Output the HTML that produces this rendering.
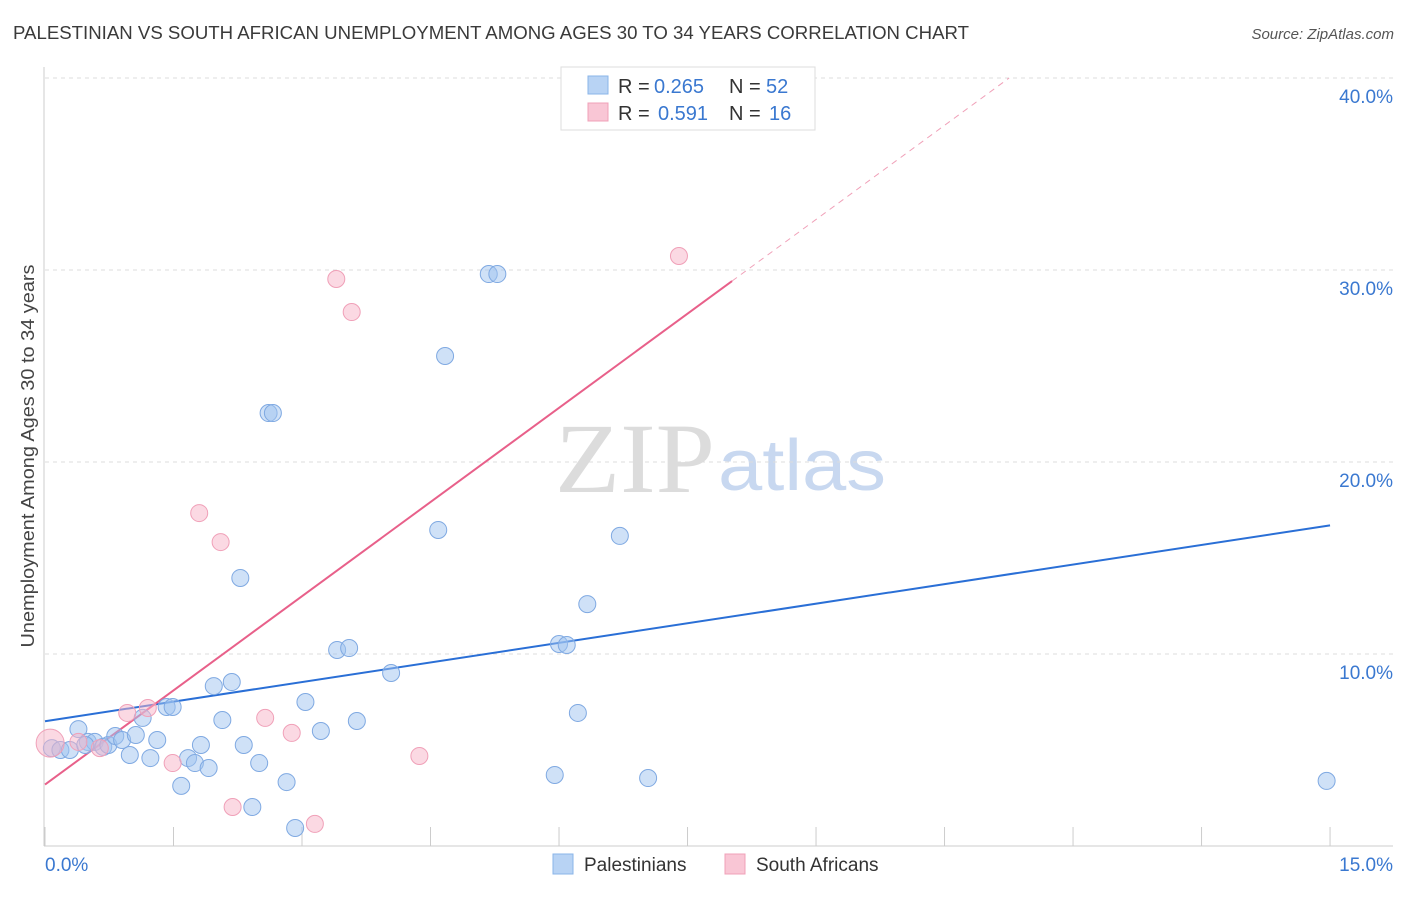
<!DOCTYPE html>
<html><head><meta charset="utf-8"><style>
body{margin:0;background:#fff;font-family:"Liberation Sans",sans-serif;}
</style></head><body>
<svg id="chart" width="1406" height="892" xmlns="http://www.w3.org/2000/svg" font-family="Liberation Sans, sans-serif">
<text x="13" y="39" font-size="18" fill="#3a3a3a" textLength="956" lengthAdjust="spacingAndGlyphs">PALESTINIAN VS SOUTH AFRICAN UNEMPLOYMENT AMONG AGES 30 TO 34 YEARS CORRELATION CHART</text>
<text x="1394" y="39" font-size="15" fill="#555" text-anchor="end" font-style="italic">Source: ZipAtlas.com</text>
<text x="555" y="492" font-size="100" fill="#dcdcdc" textLength="160" lengthAdjust="spacingAndGlyphs" font-family="Liberation Serif, serif">ZIP</text>
<text x="718" y="490" font-size="72" fill="#c8d8f0" textLength="168" lengthAdjust="spacingAndGlyphs">atlas</text>
<g id="grid"></g><g id="axes"></g><g id="lines"></g><g id="pts"></g>
<text transform="translate(34,456) rotate(-90)" font-size="18" fill="#444" text-anchor="middle" textLength="383" lengthAdjust="spacingAndGlyphs">Unemployment Among Ages 30 to 34 years</text>
<g>
<rect x="561" y="67" width="254" height="63" fill="#fff" stroke="#ddd"/>
<rect x="588" y="76" width="20" height="18" fill="#b8d3f4" stroke="#8ab4e8"/>
<rect x="588" y="103" width="20" height="18" fill="#f9c6d5" stroke="#f0a0b8"/>
<text x="618" y="93" font-size="20" fill="#333">R =</text><text x="654" y="93" font-size="20" fill="#3a78d0">0.265</text>
<text x="729" y="93" font-size="20" fill="#333">N =</text><text x="766" y="93" font-size="20" fill="#3a78d0">52</text>
<text x="618" y="120" font-size="20" fill="#333">R =</text><text x="658" y="120" font-size="20" fill="#3a78d0">0.591</text>
<text x="729" y="120" font-size="20" fill="#333">N =</text><text x="769" y="120" font-size="20" fill="#3a78d0">16</text>
</g>
<g>
<rect x="553" y="854" width="20" height="20" fill="#b8d3f4" stroke="#8ab4e8"/>
<text x="584" y="871" font-size="19" fill="#333">Palestinians</text>
<rect x="725" y="854" width="20" height="20" fill="#f9c6d5" stroke="#f0a0b8"/>
<text x="756" y="871" font-size="19" fill="#333">South Africans</text>
</g>
</svg>
<script>
const bx=[0.08,0.18,0.29,0.39,0.50,0.58,0.68,0.74,0.82,0.90,0.99,1.06,1.14,1.23,1.31,1.42,1.49,1.59,1.67,1.75,1.82,1.91,1.97,2.07,2.18,2.28,2.32,2.42,2.50,2.61,2.66,2.82,2.92,3.04,3.22,3.41,3.55,3.64,4.04,4.59,4.67,5.18,5.28,5.95,6.00,6.09,6.22,6.33,6.71,7.04,14.96,0.47];
const by=[5.10,5.00,5.00,6.09,5.42,5.42,5.16,5.26,5.73,5.52,4.74,5.78,6.67,4.58,5.52,7.24,7.24,3.13,4.58,4.32,5.26,4.06,8.33,6.56,8.54,13.96,5.26,2.03,4.32,22.55,22.55,3.33,0.94,7.50,5.99,10.21,10.31,6.51,9.01,16.46,25.52,29.79,29.79,3.70,10.52,10.47,6.93,12.60,16.15,3.54,3.39,5.26];
const px=[0.06,0.39,0.64,0.96,1.20,1.49,1.80,2.05,2.19,2.57,2.88,3.15,3.40,3.58,4.37,7.40];
const py=[5.36,5.42,5.10,6.93,7.19,4.32,17.34,15.83,2.03,6.67,5.89,1.15,29.53,27.81,4.69,30.73];
const yTicks=[10,20,30,40];
const yTickLabels=["10.0%","20.0%","30.0%","40.0%"];
const xTicks=[0,1.5,3,4.5,6,7.5,9,10.5,12,13.5,15];
const blueFit=[6.5,16.7];
const pinkFit=[3.2,3.27];
const X=v=>45+v*85.67, Y=v=>846-v*19.2;
const NS="http://www.w3.org/2000/svg";
function mk(t,a,p){const e=document.createElementNS(NS,t);for(const k in a)e.setAttribute(k,a[k]);document.getElementById(p).appendChild(e);return e;}
yTicks.forEach((t,i)=>{
 const g=mk('line',{x1:45,x2:1393,y1:Y(t),y2:Y(t),stroke:'#ddd','stroke-dasharray':'4,4'},'grid');
 
 
 const l=mk('text',{x:1393,y:Y(t)+25,'font-size':19,fill:'#3a78d0','text-anchor':'end'},'axes');
 l.textContent=yTickLabels[i];
 
 
});
const ax=mk('line',{x1:44,x2:44,y1:67,y2:846,stroke:'#ccc'},'axes');


const bxl=mk('line',{x1:44,x2:1393,y1:846,y2:846,stroke:'#ccc'},'axes');


xTicks.forEach(t=>{const e=mk('line',{x1:X(t),x2:X(t),y1:827,y2:846,stroke:'#ccc'},'axes');
 
 });
[[0,"0.0%",'start',45],[15,"15.0%",'end',1393]].forEach(d=>{const e=mk('text',{x:d[3],y:871,'font-size':19,fill:'#3a78d0','text-anchor':d[2]},'axes');e.textContent=d[1];
 
 });
const bl=mk('line',{x1:X(0),y1:Y(blueFit[0]),x2:X(15),y2:Y(blueFit[1]),stroke:'#2a6fd6','stroke-width':2},'lines');


const xe=8.02, xd=(40-pinkFit[0])/pinkFit[1];
const pl=mk('line',{x1:X(0),y1:Y(pinkFit[0]),x2:X(xe),y2:Y(pinkFit[0]+pinkFit[1]*xe),stroke:'#e8608a','stroke-width':2},'lines');


const pd=mk('line',{x1:X(xe),y1:Y(pinkFit[0]+pinkFit[1]*xe),x2:X(xd),y2:Y(40),stroke:'#f0a0b8','stroke-width':1,'stroke-dasharray':'6,5'},'lines');


bx.forEach((v,i)=>{const c=mk('circle',{cx:X(v),cy:Y(by[i]),r:8.5,fill:'rgba(160,196,240,0.5)',stroke:'#7fa9e2','stroke-width':1},'pts');
 
 });
px.forEach((v,i)=>{const c=mk('circle',{cx:X(v),cy:Y(py[i]),r:i==0?14:8.5,fill:'rgba(248,180,200,0.5)',stroke:'#f0a0b8','stroke-width':1},'pts');
 
 });
</script>
</body></html>
